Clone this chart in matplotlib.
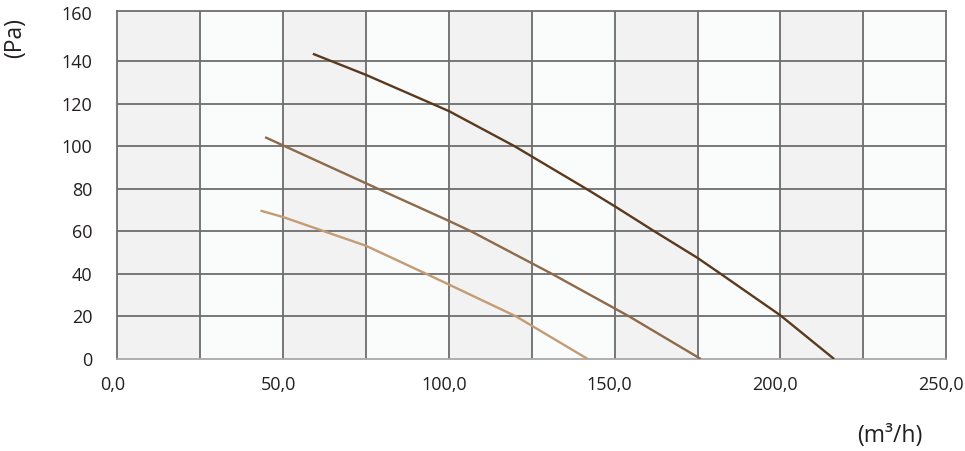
import matplotlib.pyplot as plt
from matplotlib.transforms import ScaledTranslation

plt.rcParams["font.family"] = ["Open Sans", "DejaVu Sans"]

# fan curves (airflow m3/h, pressure Pa)
high_x = [59.0, 75.0, 100.0, 119.8, 141.4, 150.0, 162.0, 175.0, 182.0, 200.0, 216.2]
high_y = [143.4, 133.5, 116.5, 100.0, 80.0, 71.8, 60.0, 47.5, 40.0, 20.5, 0.0]

mid_x = [44.6, 50.5, 78.6, 100.0, 106.7, 131.1, 154.4, 176.0]
mid_y = [104.2, 100.0, 80.0, 64.9, 60.0, 40.0, 20.0, 0.0]

low_x = [43.2, 50.0, 75.0, 93.2, 100.0, 120.3, 141.9]
low_y = [69.7, 66.7, 53.2, 40.0, 35.0, 20.0, 0.0]

x_ticks = [0, 50, 100, 150, 200, 250]
x_labels = ["0,0", "50,0", "100,0", "150,0", "200,0", "250,0"]
y_ticks = [0, 20, 40, 60, 80, 100, 120, 140, 160]

text_col = "#231f20"

fig = plt.figure(figsize=(9.65, 4.51), dpi=100)
ax = fig.add_axes([0.1215, 0.204, 0.859, 0.7716])

ax.set_xlim(0, 250)
ax.set_ylim(0, 163.5)
ax.set_facecolor("#fafbfb")

# alternating grey columns every 25 units
for start in range(0, 250, 50):
    ax.axvspan(start, start + 25, color="#f2f2f2", zorder=0, lw=0)

for xv in range(25, 250, 25):
    ax.axvline(xv, color="#6c6c6e", lw=1.3, zorder=1)
for yv in y_ticks[1:-1]:
    ax.axhline(yv, color="#6e6e6e", lw=1.3, zorder=1)

ax.plot(low_x, low_y, color="#c39c74", lw=1.7, zorder=3, solid_capstyle="butt")
ax.plot(mid_x, mid_y, color="#8c6a4a", lw=1.7, zorder=3, solid_capstyle="butt")
ax.plot(high_x, high_y, color="#5a3a1e", lw=1.7, zorder=3, solid_capstyle="butt")

for side in ["top", "right", "left"]:
    ax.spines[side].set_color("#6e6e6e")
    ax.spines[side].set_linewidth(1.3)
ax.spines["bottom"].set_color("#a8a8a8")
ax.spines["bottom"].set_linewidth(1.3)

ax.set_xticks(x_ticks)
ax.set_xticklabels(x_labels)
ax.set_yticks(y_ticks)
ax.tick_params(length=0, labelsize=13, colors=text_col)
ax.tick_params(axis="x", pad=12)
ax.tick_params(axis="y", pad=18)

# x labels sit a little left of their grid line in the original
shift = ScaledTranslation(-0.05, 0, fig.dpi_scale_trans)
for lbl in ax.get_xticklabels():
    lbl.set_transform(lbl.get_transform() + shift)
# top label is drawn level with the frame
top_lbl = ax.get_yticklabels()[-1]
top_lbl.set_transform(top_lbl.get_transform() + ScaledTranslation(0, 0.05, fig.dpi_scale_trans))

fig.text(15 / 965, 1 - 38 / 451, "(Pa)", rotation=90, ha="center", va="center",
         fontsize=16.5, color=text_col)
fig.text(890 / 965, 1 - 436 / 451, "(m³/h)", ha="center", va="center",
         fontsize=16.5, color=text_col)

fig.savefig("out.png", dpi=100)
